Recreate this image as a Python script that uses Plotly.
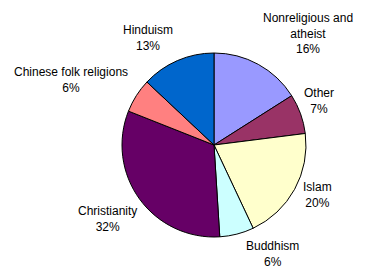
import plotly.graph_objects as go

# World religions share
labels = ["Nonreligious and<br>atheist", "Other", "Islam", "Buddhism",
          "Christianity", "Chinese folk religions", "Hinduism"]
shares = [16, 7, 20, 6, 32, 6, 13]
colors = ["#9999FF", "#993366", "#FFFFCC", "#CCFFFF",
          "#660066", "#FF8080", "#0066CC"]

W, H = 372, 280
cx, cy, r = 214, 145, 92

# label anchor points in pixels (x center, y middle of the text block)
label_pos = [(308, 33), (319, 101), (317, 195), (272, 254),
             (107, 219), (71, 80), (148, 38)]

fig = go.Figure(go.Pie(
    labels=labels,
    values=shares,
    sort=False,
    direction="clockwise",
    rotation=0,
    marker=dict(colors=colors, line=dict(color="black", width=1)),
    textinfo="none",
    hoverinfo="label+percent",
    showlegend=False,
    domain=dict(x=[(cx - r) / W, (cx + r) / W],
                y=[(H - cy - r) / H, (H - cy + r) / H]),
))

for lab, val, (px, py) in zip(labels, shares, label_pos):
    fig.add_annotation(
        x=px / W, y=1 - py / H, xref="paper", yref="paper",
        text=f"{lab}<br>{val}%", showarrow=False,
        xanchor="center", yanchor="middle", align="center",
        font=dict(family="Liberation Sans, Arial, sans-serif", size=12, color="black"),
    )

fig.update_layout(
    width=W, height=H,
    margin=dict(l=0, r=0, t=0, b=0),
    paper_bgcolor="white",
    plot_bgcolor="white",
)

fig.write_html("out.html")
